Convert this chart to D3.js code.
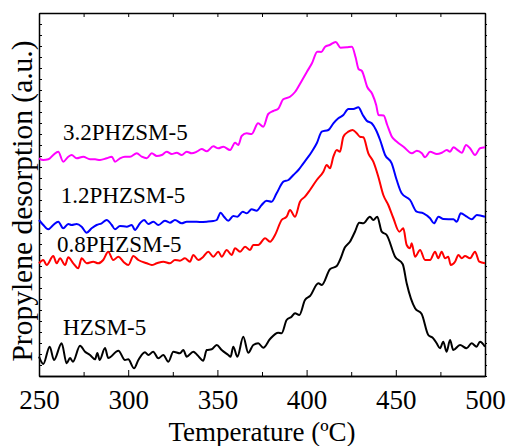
<!DOCTYPE html>
<html>
<head>
<meta charset="utf-8">
<script src="https://cdn.jsdelivr.net/npm/d3@7"></script>
<style>
  body { margin:0; background:#fff; }
  text { font-family: "Liberation Serif", "Times New Roman", serif; fill:#000; }
</style>
</head>
<body>
<div id="chart-area"></div>
<script>
/* TPD curves: [temperature, signal (a.u.)] */
var hzsm5 = [[250,19.3],[252.4,12],[256,29.3],[258.4,16],[262.7,32.7],[265.5,12.7],[267.4,18],[269,14.3],[273,30.3],[275.8,24.3],[278.6,21],[281.4,16.7],[282.7,23],[284,16],[287,28],[288.8,18],[294.5,25.3],[298.2,16],[300,16.7],[303.3,7.7],[305.7,16],[309.4,23.7],[311.3,21],[314,24.3],[316.9,17.7],[319.7,21],[322.5,14.3],[325.3,24.3],[329,22.7],[330.9,26],[332.8,19.3],[336.5,24.3],[338.7,21],[342.1,15.3],[344,26],[346.8,26.7],[349.6,31],[352.4,26],[356.1,21],[357.4,19.3],[358.9,29.3],[361.2,19.3],[364.5,39.3],[367.3,23.3],[370.1,31],[372.9,32.7],[375.7,28.3],[379.5,37],[384.1,43.3],[386,42.7],[388.8,56],[391.6,59.3],[393.5,62.7],[395.9,61],[399.1,76],[401.9,80],[406.6,92.7],[408.5,91],[413.1,106.7],[416.9,110],[418.7,116],[421.5,128.7],[424.3,134.3],[427.1,144.3],[429.5,153.3],[431.8,152.7],[435.5,159.3],[437.4,156],[439.6,159.3],[442.1,144.3],[444.9,141],[449.6,119.3],[453.9,111.7],[456.1,92.7],[460.8,67.7],[464.5,62],[468.2,41],[471,37.7],[472.9,32.7],[474.8,27.7],[476.6,34.3],[478.5,24.3],[480.4,36],[482.2,26],[486,31],[489.7,27.7],[492.5,32.7],[495.3,29.3],[497.2,34.3],[500,29.3]];

var p08 = [[250,112.7],[252.4,116],[254.3,111],[258,120],[259.9,112.7],[261.8,117.7],[264.6,111],[266.4,118.7],[269.2,112.7],[272,107.7],[273.9,117.7],[276.7,112.7],[280.4,114.3],[283.2,112.7],[286,116],[288.8,124.3],[291.6,116],[294.5,119.3],[297.3,114.3],[300.1,111],[302.9,120],[305.7,116],[310.4,112.7],[313.2,111],[316,112.7],[319.7,114.3],[323.4,112.7],[326.2,116],[329,115.3],[331.8,117.7],[334.6,114.3],[336.5,121],[339.3,116],[342.1,119.3],[344.9,124.3],[347.7,119.3],[350.5,124.3],[352.4,119.3],[355.2,126],[358,121],[359.9,127.7],[362.7,124.3],[365.5,129.3],[368.3,126],[370.1,131],[372.9,131],[376.7,137.7],[379.5,134.3],[382.3,141],[386,156],[388.8,159.3],[390.7,166],[393.5,159.3],[396.3,174.3],[399.1,179.3],[401.9,186],[405.7,196],[409.4,204.3],[411.3,211],[413.1,207.7],[415,219.3],[416.9,226],[418.7,224.3],[420.6,239.3],[423.4,244.3],[425.8,246],[428.1,242.7],[429.9,239.3],[431.8,238.7],[434.6,222.7],[437.4,214.3],[440.2,199.3],[443,181],[445.8,171],[448.6,158],[452,144.3],[454.2,147.7],[456.1,131],[458,127.7],[458.9,132.7],[460.8,119.3],[463.6,126],[466.4,116],[469.2,116],[472,124.3],[473.8,117.7],[475.7,124.3],[477.6,117.7],[479.4,119.3],[480.8,111],[483.2,114.3],[485.1,121],[487,117.7],[488.8,120],[491.6,117.7],[494.4,124.3],[496.8,114.3],[500,112.7]];

var p12 = [[250,156],[252.4,151],[255.2,146.7],[258,151],[260.8,154.3],[263.6,147.7],[266.4,152],[268.3,151],[271.1,152],[273.9,149.3],[276.7,143.3],[279.5,147.7],[282.3,151],[285.1,152.7],[287.9,156],[290.8,151],[292.6,146.7],[295.4,150],[299.2,149.3],[302,151],[303.8,146],[306.6,152.7],[308.9,156],[311.3,152],[314.1,154.3],[316.9,151],[320.6,155.3],[323.4,153.3],[326.2,156],[330,152.7],[332.8,154.3],[336.5,154.3],[340.2,154],[344,154.3],[347.7,155],[349.6,156],[351.8,163.3],[353.7,159.3],[356.1,155.3],[358.9,160],[361.2,159.3],[364.2,164.3],[366.4,162.7],[369.2,166.7],[372,165.3],[374.8,171],[377.6,175.3],[380.4,174.3],[383.2,182.7],[387,194.3],[389.8,196],[392.6,201],[395.4,206],[398.2,212.7],[401,219.3],[402.9,224.3],[405.7,232.7],[408.5,244.3],[412.2,246],[415,252.7],[417.8,257.7],[420.6,261],[423.4,267],[426.2,267],[429,268.7],[431.5,261],[433.7,255.3],[436.5,252.7],[438.9,246],[441.2,236],[444,221],[447.7,212.7],[450.5,196],[453.3,182.7],[458,176],[461.7,164.3],[465.5,162.7],[469.2,157.7],[471.4,152.7],[473.9,159.3],[476.7,157],[482.3,156.7],[484.2,154.3],[486.4,162.7],[489.8,159.3],[492.6,156.7],[495.4,161],[500,159.3]];

var p32 = [[250,217.7],[252.4,216],[255.2,216.7],[258,221],[260.8,224.3],[263.6,214.3],[266.4,219.3],[268.3,221],[271.1,217.7],[274.8,219.3],[278.6,216.7],[281.4,216.7],[284.2,216],[287.9,217.7],[290.8,219.3],[292.6,214.3],[295.4,217.7],[298.2,219.3],[301,219.3],[304.8,222.7],[307.6,219.3],[310.4,217.7],[313.2,222.7],[316,220],[318.8,221],[321.6,224.3],[324.4,222],[327.2,223.3],[330,221],[332.8,224.3],[335.6,222.7],[338.4,224.3],[341.2,227],[344,224.7],[347.7,229.7],[350.5,227.7],[353.3,229.3],[357.1,226],[359.9,233.3],[361.7,231],[363.6,240],[366.4,242.7],[369.2,242],[372.8,252.7],[375.7,249.3],[378.5,262],[381.3,265],[384.1,267.3],[386.9,276.7],[390.7,279.3],[393.5,284],[397,294.3],[400.2,304.3],[403,312.7],[406,324.3],[408.2,324],[410.4,329.3],[412.9,331],[416.3,334],[419,328.3],[422.6,328.7],[425.4,329.3],[427.5,318.5],[429.1,307],[431,305],[434,289],[436.8,282],[439,271],[440.3,261],[443.2,260.5],[445.2,251],[447.8,239.3],[450.6,234.3],[454.3,229.3],[459,222.7],[461.8,225.3],[464.6,222.7],[466.4,218.7],[469.2,224.3],[473,222],[475.8,223.3],[478.6,226],[480.4,224.3],[482.3,228.7],[485.1,225.3],[487,223.3],[489.4,231],[491.6,227.7],[494.4,221],[497.2,227.7],[500,228.7]];

var seriesNames = ["3.2PHZSM-5", "1.2PHZSM-5", "0.8PHZSM-5", "HZSM-5"];
var seriesColors = ["#ff00ff", "#0000ff", "#ff0000", "#000000"];
var seriesData = [p32, p12, p08, hzsm5];
// label anchor [temperature, signal] for each series name
var labelPos = [[263.5, 236], [262.2, 172.7], [260.1, 124.3], [263.5, 41]];

var xMajor = [250, 300, 350, 400, 450, 500];
var xMinor = [275, 325, 375, 425, 475];

/* margin convention */
var margin = { top:13, right:21, bottom:70, left:39 };
var width = 506 - margin.left - margin.right;
var height = 446 - margin.top - margin.bottom;

var svg = d3.select("#chart-area").append("svg")
  .attr("width", 506)
  .attr("height", 446);

var g = svg.append("g")
  .attr("transform", "translate(" + margin.left + "," + margin.top + ")");

var x = d3.scaleLinear().domain([250, 500]).range([0, width]);
var y = d3.scaleLinear().domain([0, 363]).range([height, 0]);

var yTicks = d3.range(0, 363, 11);

// bottom axis (labels + major ticks inward)
var xAxisGroup = g.append("g")
  .attr("transform", "translate(0," + height + ")")
  .call(d3.axisBottom(x).tickValues(xMajor).tickSizeInner(-6).tickSizeOuter(0).tickPadding(14).tickFormat(d3.format("d")));
xAxisGroup.selectAll("text").attr("font-size", "27px").attr("font-family", "Liberation Serif, serif");

g.append("g")
  .attr("transform", "translate(0," + height + ")")
  .call(d3.axisBottom(x).tickValues(xMinor).tickSizeInner(-4).tickSizeOuter(0).tickFormat(""));

// top axis
g.append("g")
  .call(d3.axisTop(x).tickValues(xMajor.concat(xMinor)).tickSizeInner(-4).tickSizeOuter(0).tickFormat(""));

// left and right axes, no labels
g.append("g")
  .call(d3.axisLeft(y).tickValues(yTicks).tickSizeInner(-3).tickSizeOuter(0).tickFormat(""));
g.append("g")
  .attr("transform", "translate(" + width + ",0)")
  .call(d3.axisRight(y).tickValues(yTicks).tickSizeInner(2).tickSizeOuter(0).tickFormat(""));

g.selectAll(".domain").attr("stroke-width", 1.5);
g.selectAll(".tick line").attr("stroke-width", 1);

// curves
var line = d3.line()
  .x(function(d){ return x(d[0]); })
  .y(function(d){ return y(d[1]); })
  .curve(d3.curveMonotoneX);

seriesData.forEach(function(data, i){
  g.append("path")
    .datum(data)
    .attr("fill", "none")
    .attr("stroke", seriesColors[i])
    .attr("stroke-width", 2)
    .attr("stroke-linejoin", "round")
    .attr("d", line);

  g.append("text")
    .attr("x", x(labelPos[i][0]))
    .attr("y", y(labelPos[i][1]))
    .attr("font-size", "23px")
    .text(seriesNames[i]);
});

// axis titles
svg.append("text")
  .attr("text-anchor", "middle")
  .attr("x", margin.left + width / 2)
  .attr("y", 441)
  .attr("font-size", "27px")
  .text("Temperature (ºC)");

svg.append("text")
  .attr("text-anchor", "middle")
  .attr("transform", "translate(32,201) rotate(-90)")
  .attr("font-size", "29.5px")
  .text("Propylene desorption (a.u.)");
</script>
</body>
</html>
